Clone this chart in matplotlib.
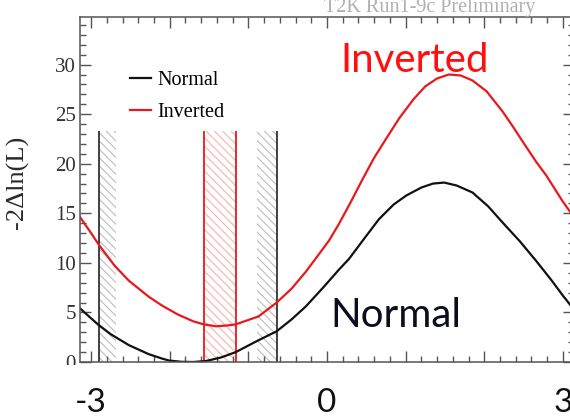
import numpy as np
import matplotlib.pyplot as plt
import matplotlib.transforms as mtransforms
from matplotlib.patches import Rectangle
from matplotlib.ticker import MultipleLocator

# -2 delta lnL scan over delta_CP
dcp_normal = [-3.14, -3.00, -2.90, -2.75, -2.52, -2.27, -2.10, -2.01, -1.85, -1.70,
              -1.54, -1.35, -1.16, -0.87, -0.64, -0.45, -0.27, -0.05, 0.15, 0.28,
              0.45, 0.66, 0.85, 1.01, 1.20, 1.35, 1.49, 1.65, 1.85, 2.05,
              2.23, 2.45, 2.66, 2.85, 3.00, 3.14]
chi2_normal = [5.4, 4.4, 3.7, 2.8, 1.7, 0.8, 0.35, 0.15, 0.02, 0.0,
               0.1, 0.45, 1.0, 2.2, 3.1, 4.3, 5.6, 7.5, 9.3, 10.4,
               12.2, 14.4, 15.9, 16.8, 17.6, 18.0, 18.1, 17.8, 17.1, 15.7,
               14.1, 12.2, 10.2, 8.3, 6.7, 5.3]

dcp_inverted = [-3.14, -3.00, -2.90, -2.70, -2.52, -2.27, -2.10, -1.90, -1.70, -1.57,
                -1.41, -1.25, -1.16, -0.87, -0.64, -0.45, -0.27, -0.10, 0.03, 0.15,
                0.30, 0.45, 0.60, 0.75, 0.92, 1.10, 1.25, 1.40, 1.55, 1.70,
                1.85, 2.03, 2.23, 2.36, 2.50, 2.66, 2.79, 2.99, 3.14]
chi2_inverted = [14.6, 13.0, 11.8, 9.7, 8.2, 6.6, 5.7, 4.8, 4.1, 3.8,
                 3.6, 3.7, 3.8, 4.6, 6.0, 7.4, 9.1, 10.9, 12.3, 13.9,
                 16.1, 18.4, 20.6, 22.5, 24.6, 26.5, 27.8, 28.6, 29.0, 28.9,
                 28.4, 27.3, 25.3, 23.8, 22.1, 20.2, 18.8, 16.3, 14.6]

# 1 sigma intervals (solid edge, hatched edge)
normal_band_left = [-2.90, -2.68]
normal_band_right = [-0.89, -0.64]
inverted_band = [-1.57, -1.16]
band_top = 23.3

big_ticks = [-3, 0, 3]

plt.rcParams['hatch.linewidth'] = 0.8
serif = 'Liberation Serif'

fig = plt.figure(figsize=(5.7, 4.2), dpi=100)
ax = fig.add_axes([80 / 570, 58 / 420, 494 / 570, 345 / 420])

hatch = '\\\\\\\\'
for band in (normal_band_left, normal_band_right):
    ax.fill_between(band, 0, band_top, facecolor='none', edgecolor='#bdbdbd',
                    hatch=hatch, linewidth=0)
ax.fill_between(inverted_band, 0, band_top, facecolor='none', edgecolor='#f3b3b3',
                hatch=hatch, linewidth=0)
ax.vlines([normal_band_left[0], normal_band_right[1]], 0, band_top, color='#333333', lw=1.3)
ax.vlines(inverted_band, 0, band_top, color='#e8191c', lw=1.3)

ax.plot(dcp_normal, chi2_normal, color='#111111', lw=1.6, label='Normal')
ax.plot(dcp_inverted, chi2_inverted, color='#e8191c', lw=1.6, label='Inverted')

ax.set_xlim(-np.pi, np.pi)
ax.set_ylim(0, 34.8)
ax.xaxis.set_major_locator(MultipleLocator(1))
ax.xaxis.set_minor_locator(MultipleLocator(0.2))
ax.yaxis.set_major_locator(MultipleLocator(5))
ax.yaxis.set_minor_locator(MultipleLocator(1))
ax.tick_params(which='both', direction='in', top=True, right=True,
               color='#555555', width=1.0, labelbottom=False,
               labelsize=15, labelcolor='#333333', pad=3)
ax.tick_params(which='major', length=8)
ax.tick_params(which='minor', length=4)
for lab in ax.get_yticklabels():
    lab.set_family(serif)
for sp in ax.spines.values():
    sp.set_color('#555555')
    sp.set_linewidth(1.1)

ax.set_ylabel('-2\u0394ln(L)', family=serif, fontsize=19, color='#2a2a2a')
ax.yaxis.set_label_coords(-0.103, 0.522)

ax.legend(loc='upper left', bbox_to_anchor=(0.101, 0.845), frameon=False,
          prop={'family': serif, 'size': 14.5}, handlelength=1.05,
          handletextpad=0.3, labelspacing=0.65, borderpad=0, borderaxespad=0)

fig.text(430 / 570, 1 - 12 / 420, 'T2K Run1-9c Preliminary', ha='center',
         va='baseline', family=serif, fontsize=14.5, color='#b0b0b0')

# white strip under the frame with large axis numbers on top
fig.patches.append(Rectangle((0, 0), 1, 55 / 420, transform=fig.transFigure,
                             facecolor='white', edgecolor='none', zorder=1))
trans = mtransforms.blended_transform_factory(ax.transData, fig.transFigure)
for t in big_ticks:
    fig.text(t, 1 - 412 / 420, '%d' % t, transform=trans, ha='center',
             va='baseline', family='Lato', fontsize=24, color='#111111', zorder=2)

fig.text(340 / 570, 1 - 72 / 420, 'Inverted', family='Lato', fontsize=29,
         color='#ff1010', va='baseline')
fig.text(330 / 570, 1 - 327 / 420, 'Normal', family='Lato', fontsize=29,
         color='#0d0d20', va='baseline')

fig.savefig('out.png', dpi=100)
